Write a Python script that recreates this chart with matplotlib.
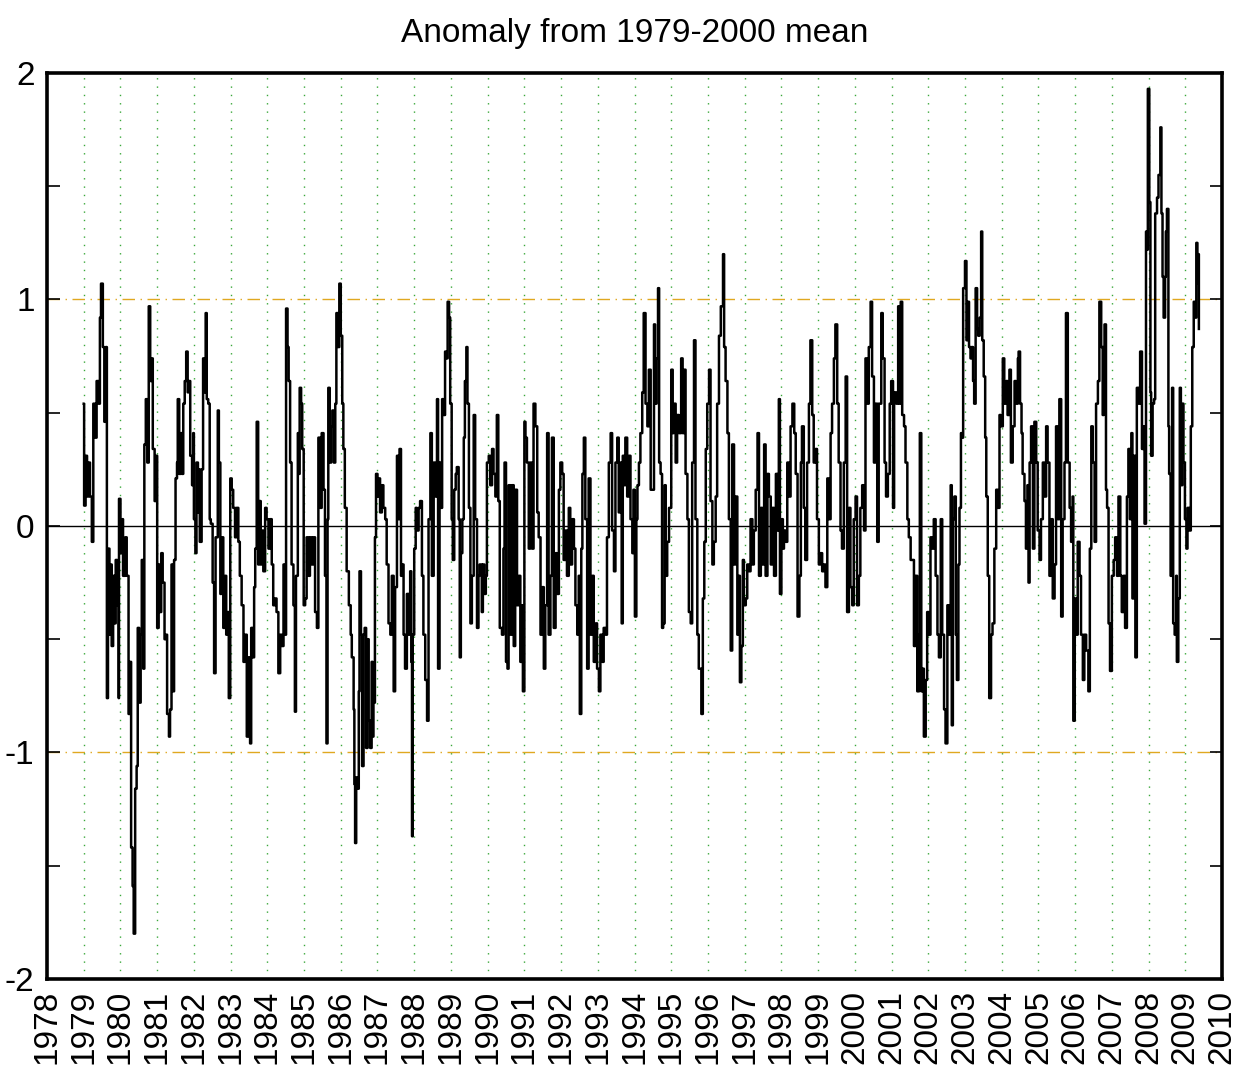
import matplotlib
matplotlib.use("Agg")
import matplotlib.pyplot as plt

plt.rcParams['font.family'] = ['Liberation Sans', 'DejaVu Sans']

# decimal year of each reading
dates = [
    1979.00, 1979.01, 1979.05, 1979.09, 1979.13, 1979.17, 1979.22, 1979.26, 1979.31, 1979.35,
    1979.40, 1979.44, 1979.47, 1979.52, 1979.56, 1979.60, 1979.63, 1979.66, 1979.70, 1979.74,
    1979.76, 1979.80, 1979.84, 1979.87, 1979.91, 1979.95, 1979.96, 1980.00, 1980.04, 1980.07,
    1980.13, 1980.17, 1980.22, 1980.25, 1980.29, 1980.33, 1980.36, 1980.40, 1980.44, 1980.47,
    1980.51, 1980.55, 1980.58, 1980.62, 1980.65, 1980.69, 1980.73, 1980.77, 1980.81, 1980.85,
    1980.88, 1980.93, 1980.96, 1981.00, 1981.04, 1981.07, 1981.11, 1981.15, 1981.20, 1981.24,
    1981.27, 1981.32, 1981.35, 1981.39, 1981.43, 1981.46, 1981.50, 1981.54, 1981.56, 1981.60,
    1981.64, 1981.67, 1981.71, 1981.75, 1981.79, 1981.83, 1981.86, 1981.90, 1981.95, 1981.98,
    1982.00, 1982.04, 1982.07, 1982.11, 1982.15,
    1982.16, 1982.21, 1982.25, 1982.28, 1982.32, 1982.35, 1982.39, 1982.43, 1982.46, 1982.51,
    1982.55, 1982.59, 1982.65, 1982.68, 1982.72, 1982.75, 1982.80, 1982.85, 1982.88, 1982.92,
    1982.95, 1982.99, 1983.03, 1983.07, 1983.12, 1983.16, 1983.21, 1983.25, 1983.30, 1983.35,
    1983.39, 1983.44, 1983.48, 1983.53, 1983.56, 1983.60, 1983.64, 1983.67, 1983.71, 1983.75,
    1983.78, 1983.82, 1983.85, 1983.89, 1983.94, 1983.98, 1984.03, 1984.07, 1984.12, 1984.16,
    1984.21, 1984.25, 1984.30, 1984.35, 1984.39, 1984.44, 1984.47, 1984.51, 1984.55, 1984.58,
    1984.62, 1984.66, 1984.71, 1984.75, 1984.78, 1984.83, 1984.85, 1984.88, 1984.92, 1984.95,
    1984.99, 1985.03, 1985.07, 1985.12, 1985.16, 1985.21, 1985.25, 1985.30, 1985.35, 1985.39,
    1985.44, 1985.48, 1985.53, 1985.57, 1985.61, 1985.64, 1985.66, 1985.70, 1985.74, 1985.77,
    1985.81, 1985.85, 1985.88, 1985.92, 1985.96, 1986.00, 1986.04, 1986.07, 1986.11,
    1986.16, 1986.22, 1986.27,
    1986.30, 1986.35, 1986.37, 1986.39, 1986.42, 1986.45, 1986.49, 1986.51, 1986.55, 1986.58,
    1986.62, 1986.65, 1986.69, 1986.73, 1986.76, 1986.80, 1986.84, 1986.87, 1986.89, 1986.93,
    1986.96, 1987.00, 1987.04, 1987.07, 1987.12, 1987.16, 1987.21, 1987.25, 1987.30, 1987.35,
    1987.39, 1987.44, 1987.48, 1987.53, 1987.57, 1987.60, 1987.64, 1987.67, 1987.71, 1987.75,
    1987.80, 1987.85, 1987.89, 1987.92, 1987.94, 1987.96, 1988.00, 1988.04, 1988.07, 1988.12,
    1988.16, 1988.21, 1988.25, 1988.30, 1988.35, 1988.39, 1988.44, 1988.48, 1988.53, 1988.57,
    1988.62, 1988.65, 1988.69, 1988.73, 1988.76, 1988.80, 1988.84, 1988.87, 1988.91, 1988.95,
    1988.98, 1989.02, 1989.05, 1989.09, 1989.13, 1989.16, 1989.21, 1989.24, 1989.27, 1989.31,
    1989.35, 1989.38, 1989.42, 1989.45, 1989.49, 1989.53, 1989.57, 1989.62, 1989.66, 1989.71,
    1989.75, 1989.78, 1989.84, 1989.87, 1989.91, 1989.95, 1989.98, 1990.03, 1990.07, 1990.12,
    1990.16, 1990.21, 1990.25, 1990.29, 1990.33,
    1990.39, 1990.43, 1990.46, 1990.50, 1990.54, 1990.57, 1990.62, 1990.66, 1990.71, 1990.75,
    1990.80, 1990.85, 1990.89, 1990.93, 1990.96, 1991.00, 1991.03, 1991.07, 1991.12, 1991.16,
    1991.21, 1991.25, 1991.30, 1991.35, 1991.39, 1991.44, 1991.48, 1991.53, 1991.57, 1991.62,
    1991.66, 1991.71, 1991.75, 1991.80, 1991.85, 1991.89, 1991.94, 1991.98, 1992.03, 1992.07,
    1992.12, 1992.16, 1992.21, 1992.25, 1992.30, 1992.35, 1992.39, 1992.44, 1992.48, 1992.51,
    1992.55, 1992.58, 1992.62, 1992.66, 1992.71, 1992.75, 1992.80, 1992.85, 1992.89, 1992.94,
    1992.98, 1993.03, 1993.07, 1993.12, 1993.16, 1993.21, 1993.25, 1993.30, 1993.35, 1993.39,
    1993.44, 1993.48, 1993.53, 1993.57, 1993.61, 1993.65, 1993.68, 1993.72, 1993.75, 1993.80,
    1993.85, 1993.89, 1993.94, 1993.97, 1994.01, 1994.05, 1994.08, 1994.12, 1994.16, 1994.21,
    1994.25, 1994.30, 1994.35, 1994.39, 1994.44,
    1994.48, 1994.53, 1994.56, 1994.60, 1994.64, 1994.67, 1994.71, 1994.75, 1994.78, 1994.82,
    1994.85, 1994.89, 1994.94, 1995.00, 1995.04, 1995.07, 1995.12, 1995.16, 1995.21, 1995.27,
    1995.31, 1995.35, 1995.39, 1995.44, 1995.48, 1995.53, 1995.57, 1995.62, 1995.66, 1995.71,
    1995.75, 1995.82, 1995.86, 1995.90, 1995.94, 1995.98, 1996.03, 1996.07, 1996.12, 1996.16,
    1996.21, 1996.25, 1996.30, 1996.35, 1996.41, 1996.44, 1996.48, 1996.53, 1996.57, 1996.62,
    1996.66, 1996.71, 1996.75, 1996.80, 1996.84, 1996.87, 1996.91, 1996.95, 1996.98, 1997.03,
    1997.07, 1997.12, 1997.16, 1997.21, 1997.25, 1997.30, 1997.35, 1997.39, 1997.44, 1997.48,
    1997.53, 1997.57, 1997.62, 1997.66, 1997.71, 1997.75, 1997.80, 1997.85, 1997.89, 1997.93,
    1997.96, 1998.00, 1998.04, 1998.07, 1998.12, 1998.16, 1998.21, 1998.25, 1998.30, 1998.35,
    1998.39, 1998.44,
    1998.45, 1998.49, 1998.53, 1998.56, 1998.61, 1998.65, 1998.70, 1998.75, 1998.79, 1998.84,
    1998.88, 1998.93, 1998.97, 1999.02, 1999.06, 1999.11, 1999.15, 1999.20, 1999.25, 1999.29,
    1999.34, 1999.38, 1999.43, 1999.47, 1999.52, 1999.56, 1999.61, 1999.65, 1999.70, 1999.75,
    1999.79, 1999.84, 1999.88, 1999.93, 1999.97, 2000.02, 2000.06, 2000.11, 2000.15, 2000.20,
    2000.25, 2000.29, 2000.34, 2000.38, 2000.43, 2000.47, 2000.52, 2000.56, 2000.61, 2000.65,
    2000.72, 2000.76, 2000.81, 2000.85, 2000.90, 2000.95, 2000.99, 2001.04, 2001.07, 2001.13,
    2001.18, 2001.22, 2001.25, 2001.29, 2001.34, 2001.38, 2001.43, 2001.47, 2001.52, 2001.56,
    2001.61, 2001.65, 2001.70, 2001.75, 2001.77, 2001.81, 2001.85, 2001.88, 2001.93, 2001.97,
    2002.02, 2002.06, 2002.11, 2002.15, 2002.20, 2002.25, 2002.29, 2002.34, 2002.38, 2002.43,
    2002.47, 2002.52, 2002.56, 2002.61,
    2002.64, 2002.67, 2002.71, 2002.75, 2002.78, 2002.82, 2002.85, 2002.89, 2002.93, 2002.95,
    2003.00, 2003.04, 2003.07, 2003.11, 2003.15, 2003.18, 2003.22, 2003.25, 2003.29, 2003.33,
    2003.36, 2003.40, 2003.44, 2003.47, 2003.51, 2003.55, 2003.58, 2003.62, 2003.66, 2003.71,
    2003.75, 2003.80, 2003.85, 2003.89, 2003.94, 2003.98, 2004.03, 2004.07, 2004.12, 2004.16,
    2004.21, 2004.25, 2004.30, 2004.35, 2004.39, 2004.44, 2004.46, 2004.50, 2004.54, 2004.57,
    2004.62, 2004.66, 2004.70, 2004.73, 2004.76, 2004.80, 2004.85, 2004.89, 2004.94, 2004.98,
    2005.03, 2005.07, 2005.12, 2005.16, 2005.21, 2005.25, 2005.30, 2005.35, 2005.39, 2005.44,
    2005.48, 2005.53, 2005.57, 2005.62, 2005.66, 2005.71, 2005.75, 2005.80, 2005.85, 2005.89,
    2005.93, 2005.95, 2005.99, 2006.03, 2006.07, 2006.12, 2006.16, 2006.21, 2006.25, 2006.30,
    2006.36, 2006.40, 2006.44, 2006.48, 2006.53, 2006.57, 2006.62, 2006.66,
    2006.71, 2006.75, 2006.78, 2006.80, 2006.84, 2006.87, 2006.91, 2006.95, 2007.00, 2007.05,
    2007.09, 2007.14, 2007.18, 2007.23, 2007.27, 2007.32, 2007.36, 2007.41, 2007.45, 2007.49,
    2007.53, 2007.56, 2007.60, 2007.64, 2007.68, 2007.73, 2007.77, 2007.82, 2007.86, 2007.89,
    2007.93, 2007.95, 2007.98, 2008.02, 2008.05, 2008.07, 2008.11, 2008.15, 2008.18, 2008.23,
    2008.27, 2008.32, 2008.35, 2008.38, 2008.41, 2008.45, 2008.47, 2008.50, 2008.54, 2008.56,
    2008.60, 2008.64, 2008.67, 2008.71, 2008.75, 2008.77, 2008.81, 2008.85, 2008.88, 2008.92,
    2008.95, 2008.99, 2009.03, 2009.06, 2009.11, 2009.15, 2009.19, 2009.23, 2009.26, 2009.30,
    2009.33, 2009.35, 2009.37,
]

anomaly = [
    0.54, 0.09, 0.31, 0.13, 0.28, 0.13, -0.07, 0.54, 0.39, 0.64,
    0.54, 0.92, 1.07, 0.79, 0.46, 0.79, -0.76, -0.10, -0.48, -0.17,
    -0.53, -0.22, -0.43, -0.15, -0.35, -0.76, 0.12, -0.12, 0.03, -0.22,
    -0.05, -0.22, -0.83, -0.60, -1.42, -1.59, -1.80, -1.16, -1.06, -0.45,
    -0.78, -0.48, -0.15, -0.63, 0.36, 0.56, 0.28, 0.97, 0.64, 0.74,
    0.34, 0.11, 0.31, -0.45, -0.17, -0.38, -0.12, -0.25, -0.50, -0.48,
    -0.83, -0.93, -0.81, -0.17, -0.73, -0.15, 0.21, 0.28, 0.56, 0.23,
    0.41, 0.23, 0.54, 0.64, 0.77, 0.59, 0.64, 0.31, 0.18, 0.41,
    0.03, -0.12, 0.28, 0.06, 0.25,
    -0.07, 0.25, 0.74, 0.59, 0.94, 0.56, 0.54, 0.03, 0.01, -0.25,
    -0.65, -0.05, 0.51, 0.28, -0.30, -0.05, -0.45, -0.22, -0.48, -0.38,
    -0.76, 0.21, 0.16, 0.08, -0.05, 0.08, -0.07, -0.22, -0.35, -0.60,
    -0.48, -0.93, -0.58, -0.96, -0.45, -0.58, -0.27, -0.10, 0.46, -0.17,
    0.11, -0.17, -0.02, -0.20, 0.08, 0.03, -0.10, 0.03, -0.17, -0.35,
    -0.32, -0.38, -0.65, -0.48, -0.53, -0.17, -0.48, 0.96, 0.79, 0.64,
    0.28, -0.17, -0.35, -0.82, -0.22, 0.41, 0.23, 0.61, 0.54, 0.34,
    -0.35, -0.32, -0.05, -0.22, -0.05, -0.17, -0.05, -0.38, -0.45, 0.39,
    0.08, 0.41, 0.16, -0.22, -0.96, 0.03, 0.61, 0.28, 0.44, 0.51,
    0.28, 0.54, 0.94, 0.79, 1.07, 0.84, 0.54, 0.34, 0.08,
    -0.20, -0.35, -0.48,
    -0.58, -0.81, -1.14, -1.40, -1.11, -1.16, -0.73, -0.20, -0.48, -1.06,
    -0.48, -0.45, -0.98, -0.50, -0.86, -0.98, -0.60, -0.93, -0.78, -0.05,
    0.23, 0.13, 0.21, 0.06, 0.18, 0.08, 0.03, -0.17, -0.43, -0.48,
    -0.22, -0.73, -0.27, 0.31, 0.03, 0.34, -0.22, -0.17, -0.48, -0.63,
    -0.30, -0.48, -0.20, -0.60, -1.37, -0.48, -0.10, 0.08, -0.02, 0.08,
    0.11, -0.22, -0.48, -0.68, -0.86, 0.03, 0.41, -0.22, 0.28, 0.13,
    0.56, -0.63, 0.28, 0.08, 0.56, 0.49, 0.77, 0.74, 0.99, 0.92,
    0.54, 0.03, -0.15, 0.16, 0.23, 0.26, 0.03, -0.58, -0.12, 0.03,
    0.39, 0.64, 0.79, 0.54, 0.08, -0.43, -0.22, 0.49, 0.03, -0.45,
    -0.22, -0.17, -0.38, -0.17, -0.30, -0.22, 0.28, 0.31, 0.18, 0.34,
    0.23, 0.13, 0.49, 0.11, -0.45,
    -0.48, -0.10, 0.28, -0.60, -0.63, 0.18, -0.48, 0.18, -0.53, 0.16,
    -0.35, -0.22, -0.60, -0.35, -0.73, 0.46, 0.39, 0.28, -0.10, 0.28,
    -0.10, 0.54, 0.44, 0.06, -0.05, -0.48, -0.27, -0.63, -0.35, 0.41,
    -0.48, -0.22, 0.39, -0.45, -0.12, -0.30, 0.16, 0.28, 0.23, -0.15,
    -0.02, -0.22, 0.08, -0.17, 0.03, -0.10, -0.35, -0.48, -0.22, -0.83,
    -0.10, 0.23, 0.39, 0.03, -0.63, 0.21, -0.48, -0.22, -0.60, -0.43,
    -0.63, -0.73, -0.48, -0.60, -0.45, -0.48, -0.05, 0.28, 0.41, -0.02,
    -0.20, 0.28, 0.39, 0.06, 0.28, -0.43, 0.31, 0.18, 0.39, 0.13,
    0.31, 0.03, -0.12, 0.16, -0.40, 0.03, 0.18, 0.28, 0.41, 0.59,
    0.94, 0.54, 0.44, 0.69, 0.16,
    0.16, 0.89, 0.54, 0.74, 1.05, 0.28, 0.23, -0.45, -0.43, 0.18,
    -0.22, -0.07, 0.08, 0.69, 0.41, 0.54, 0.28, 0.49, 0.41, 0.74,
    0.41, 0.69, 0.23, 0.03, -0.38, -0.43, 0.28, 0.82, 0.03, -0.48,
    -0.63, -0.83, -0.32, -0.07, 0.34, 0.54, 0.69, 0.11, -0.17, -0.07,
    0.13, 0.54, 0.84, 0.97, 1.20, 0.79, 0.64, 0.41, 0.03, -0.55,
    0.36, -0.17, 0.13, -0.48, -0.22, -0.69, -0.53, -0.15, -0.35, -0.32,
    -0.17, -0.20, 0.03, -0.17, -0.02, 0.16, 0.41, -0.22, 0.08, -0.17,
    0.36, -0.22, 0.23, 0.13, -0.17, 0.08, -0.22, 0.23, -0.02, 0.56,
    -0.30, 0.03, -0.10, -0.02, -0.07, 0.28, 0.13, 0.44, 0.54, 0.41,
    0.23, -0.40,
    -0.40, -0.22, 0.28, 0.44, 0.08, -0.15, 0.28, 0.54, 0.82, 0.49,
    0.28, 0.34, 0.03, -0.17, -0.12, -0.20, -0.17, -0.27, 0.21, 0.03,
    0.41, 0.54, 0.74, 0.89, 0.54, 0.28, -0.02, -0.10, 0.28, 0.66,
    -0.38, 0.08, -0.27, -0.35, 0.03, 0.13, -0.35, -0.22, 0.08, 0.18,
    -0.02, 0.74, 0.54, 0.79, 0.99, 0.66, 0.28, 0.54, -0.07, 0.54,
    0.94, 0.74, 0.28, 0.13, 0.23, 0.54, 0.64, 0.08, 0.59, 0.54,
    0.97, 0.54, 0.99, 0.49, 0.44, 0.28, 0.03, -0.05, -0.15, -0.15,
    -0.53, -0.22, -0.73, -0.48, 0.41, -0.73, -0.63, -0.93, -0.68, -0.38,
    -0.48, -0.05, -0.10, 0.03, -0.22, -0.48, -0.58, 0.03, -0.48, -0.81,
    -0.96, -0.35, -0.48, 0.18,
    -0.88, 0.03, 0.13, -0.48, -0.68, -0.17, 0.08, 0.41, 0.39, 1.05,
    1.17, 0.82, 0.99, 0.79, 0.74, 0.79, 0.64, 0.54, 1.05, 0.87,
    0.84, 0.92, 1.30, 0.82, 0.66, 0.39, 0.13, -0.22, -0.76, -0.48,
    -0.43, -0.10, 0.16, 0.08, 0.49, 0.44, 0.74, 0.54, 0.64, 0.49,
    0.69, 0.28, 0.44, 0.64, 0.54, 0.74, 0.77, 0.54, 0.41, 0.23,
    0.11, -0.10, 0.18, -0.25, 0.28, 0.44, -0.10, 0.46, 0.28, -0.02,
    -0.15, 0.03, 0.28, 0.13, 0.44, 0.28, -0.22, 0.03, -0.32, -0.17,
    0.44, 0.03, 0.56, -0.40, 0.03, 0.28, 0.94, 0.28, 0.08, -0.07,
    0.13, -0.86, -0.32, -0.48, -0.07, -0.22, -0.48, -0.68, -0.48, -0.55,
    -0.73, -0.10, 0.44, 0.28, -0.07, 0.54, 0.64, 0.99,
    0.79, 0.49, 0.79, 0.89, 0.16, 0.08, -0.43, -0.64, -0.22, -0.15,
    -0.05, -0.22, 0.13, -0.22, -0.38, -0.22, -0.45, 0.13, 0.34, 0.03,
    0.41, -0.32, 0.31, -0.58, 0.61, 0.54, 0.77, 0.34, 0.44, 0.01,
    1.30, 1.22, 1.93, 1.43, 0.59, 0.31, 0.54, 0.56, 1.38, 1.45,
    1.55, 1.76, 1.38, 1.10, 0.92, 1.10, 1.30, 1.40, 0.44, 0.23,
    -0.22, 0.61, -0.43, -0.48, -0.22, -0.60, -0.32, 0.61, 0.18, 0.54,
    0.28, 0.03, -0.10, 0.08, -0.02, 0.44, 0.79, 0.99, 0.92, 1.25,
    1.07, 1.20, 0.87,
]

years = list(range(1978, 2011))
y_ticks = [-2, -1.5, -1, -0.5, 0, 0.5, 1, 1.5, 2]
y_labels = ['-2', '', '-1', '', '0', '', '1', '', '2']

fig = plt.figure(figsize=(12.41, 10.72), dpi=100)
ax = fig.add_axes([0.0379, 0.0868, 0.9468, 0.8451])

for yr in years[1:-1]:
    ax.axvline(yr, color='#3aa83a', linestyle=(0, (1, 5)), linewidth=1.0, zorder=1)

ax.axhline(1, color='#e0a820', linestyle=(0, (9, 4, 1, 4)), linewidth=1.0, zorder=1)
ax.axhline(-1, color='#e0a820', linestyle=(0, (9, 4, 1, 4)), linewidth=1.0, zorder=1)
ax.axhline(0, color='black', linewidth=1.0, zorder=2)

ax.plot(dates, anomaly, color='black', linewidth=1.8, drawstyle='steps-post', zorder=3)

ax.set_xlim(1978, 2010)
ax.set_ylim(-2, 2)
ax.set_xticks(years)
ax.set_xticklabels([str(y) for y in years], rotation=90, fontsize=24)
ax.tick_params(axis='x', length=0, pad=8)
ax.set_yticks(y_ticks)
ax.set_yticklabels(y_labels, fontsize=24)
ax.tick_params(axis='y', direction='in', length=9, width=1.2, right=True, pad=9)

for s in ax.spines.values():
    s.set_linewidth(2.6)

ax.set_title('Anomaly from 1979-2000 mean', fontsize=24, pad=22)

fig.savefig('out.png', dpi=100)
